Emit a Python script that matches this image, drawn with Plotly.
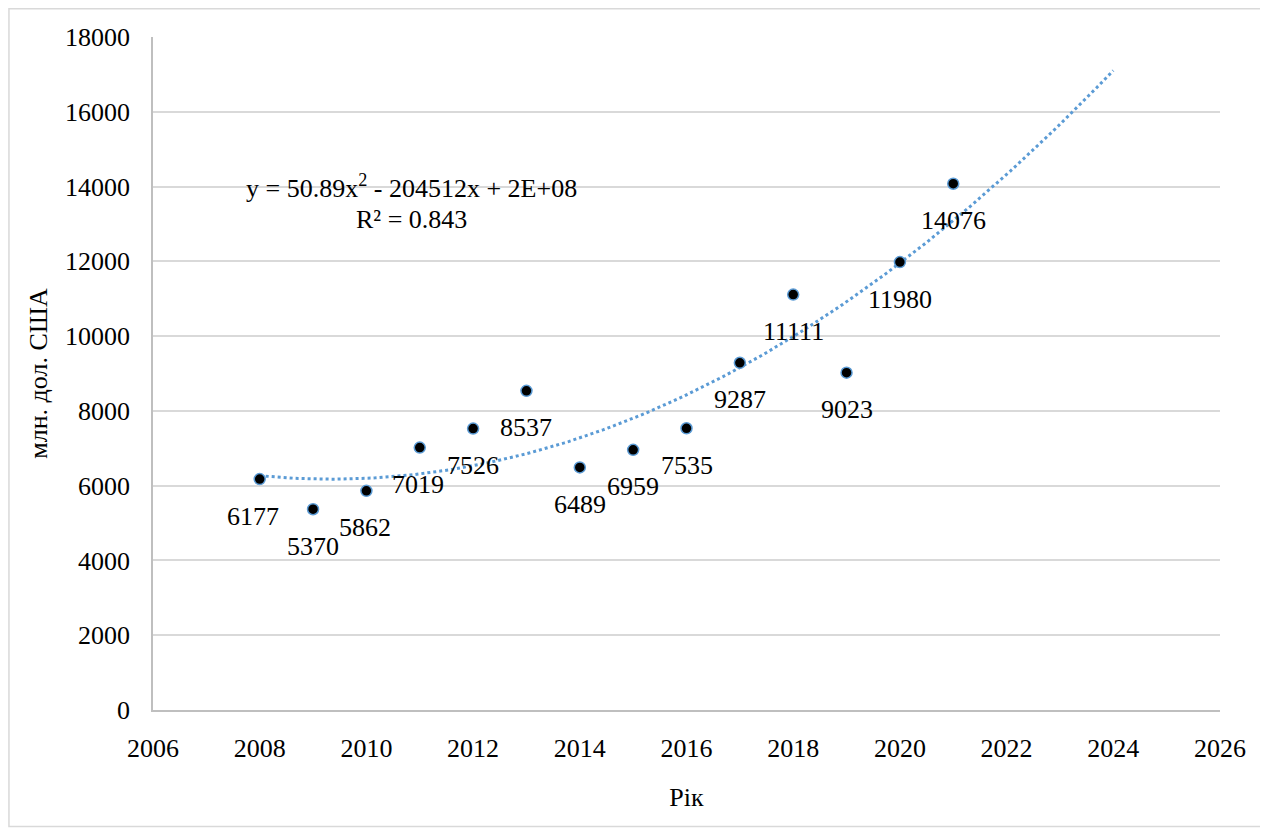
import numpy as np
import plotly.graph_objects as go

years = [2008, 2009, 2010, 2011, 2012, 2013, 2014, 2015, 2016, 2017, 2018, 2019, 2020, 2021]
values = [6177, 5370, 5862, 7019, 7526, 8537, 6489, 6959, 7535, 9287, 11111, 9023, 11980, 14076]
label_xshift = [-7, 0, -1, -2, 0, 0, 0, 0, 0, 0, 0, 0, 0, 0]
equation_text = "y = 50.89x<sup>2</sup> - 204512x + 2E+08"
r2_text = "R² = 0.843"
x_title = "Рік"
y_title = "млн. дол. США"
forecast_end = 2024

FONT = "Liberation Serif, Times New Roman, serif"
BLUE = "#5B9BD5"
FS = 26

# quadratic trendline fitted to the data
xa = np.array(years, dtype=float)
ya = np.array(values, dtype=float)
x0 = 2014.0
coef = np.polyfit(xa - x0, ya, 2)
xt = np.linspace(years[0], forecast_end, 200)
yt = np.polyval(coef, xt - x0)

fig = go.Figure()
fig.add_trace(go.Scatter(x=xt, y=yt, mode="lines",
                         line=dict(color=BLUE, width=3, dash="dot"),
                         hoverinfo="skip", showlegend=False))
fig.add_trace(go.Scatter(x=years, y=values, mode="markers",
                         marker=dict(color="black", size=11, line=dict(color=BLUE, width=1.5)),
                         showlegend=False))

for x, v, dx in zip(years, values, label_xshift):
    fig.add_annotation(x=x, y=v, text=str(v), showarrow=False,
                       xshift=dx, yshift=-37,
                       font=dict(family=FONT, size=FS, color="black"))

fig.add_annotation(x=2010.85, y=14000, text=equation_text, showarrow=False,
                   font=dict(family=FONT, size=FS, color="black"))
fig.add_annotation(x=2010.85, y=13130, text=r2_text, showarrow=False,
                   font=dict(family=FONT, size=FS, color="black"))

# outer chart border
fig.add_shape(type="rect", xref="paper", yref="paper",
              x0=-0.1350, x1=1.0415, y0=-0.1730, y1=1.0420,
              line=dict(color="#D9D9D9", width=1.5), layer="below")

fig.update_layout(
    width=1258, height=820,
    margin=dict(l=145, r=46, t=29, b=118, autoexpand=False),
    paper_bgcolor="white", plot_bgcolor="white",
    font=dict(family=FONT, size=FS, color="black"),
    showlegend=False,
)
fig.update_xaxes(range=[2006, 2026], dtick=2, tick0=2006, showgrid=False,
                 showline=True, linecolor="#BFBFBF", linewidth=1.5,
                 ticks="", ticklabelstandoff=14, automargin=False,
                 zeroline=False, tickformat="d",
                 title=dict(text=x_title, font=dict(family=FONT, size=FS), standoff=26))
fig.update_yaxes(range=[0, 18000], dtick=2000, showgrid=True, gridcolor="#D9D9D9",
                 gridwidth=1.5, showline=True, linecolor="#BFBFBF", linewidth=1.5,
                 ticks="", ticklabelstandoff=16, zeroline=False, automargin=False,
                 tickformat="d",
                 title=dict(text=y_title, font=dict(family=FONT, size=FS), standoff=10))

fig.write_html("out.html")
